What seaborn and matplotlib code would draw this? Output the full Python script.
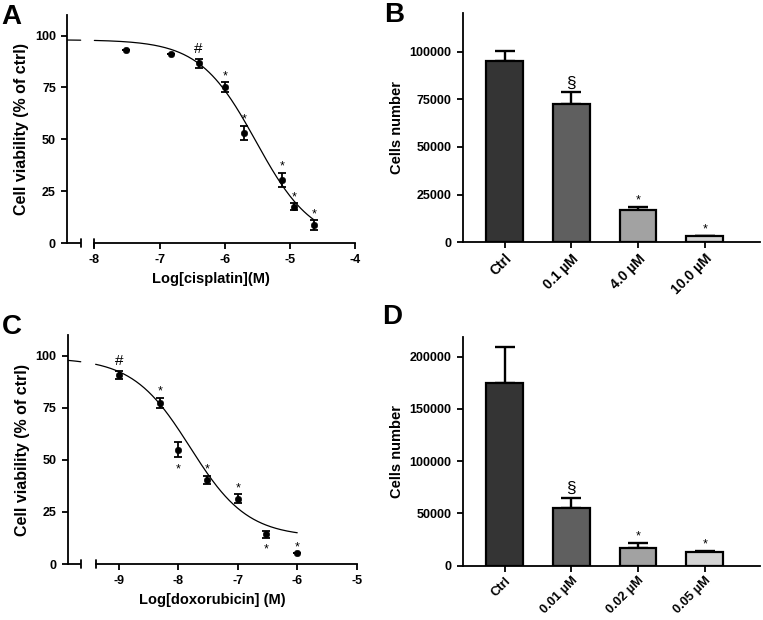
import numpy as np
import pandas as pd
import matplotlib
matplotlib.use("Agg")
import matplotlib.pyplot as plt
import matplotlib.transforms as mtransforms
import seaborn as sns

# ==========================================================
#  Data
# ==========================================================
# Panel A - cisplatin dose response
cis_logc = [-7.52, -6.82, -6.40, -6.00, -5.70, -5.12, -4.93, -4.63]
cis_via = [93.0, 91.1, 86.6, 75.3, 53.2, 30.4, 17.5, 8.6]
cis_err = [0.0, 0.0, 2.3, 2.3, 3.3, 3.5, 1.7, 2.5]
cis_marks = ["", "", "#", "*", "*", "*", "*", "*"]
cis_mark_below = [False] * 8
# 4PL fit: top, bottom, logIC50, hill
cis_fit = (98.0, 0.0, -5.52, 1.0)

# Panel B - cells number, cisplatin
cis_groups = ["Ctrl", "0.1 µM", "4.0 µM", "10.0 µM"]
cis_cells = [95000, 72500, 17000, 3500]
cis_cells_err = [5300, 6300, 1700, 0]
cis_cells_marks = ["", "§", "*", "*"]

# Panel C - doxorubicin dose response
dox_logc = [-9.00, -8.30, -8.00, -7.52, -7.00, -6.52, -6.00]
dox_via = [90.9, 77.4, 54.9, 40.5, 31.4, 14.2, 5.3]
dox_err = [2.0, 2.4, 3.6, 2.0, 2.0, 1.5, 0.0]
dox_marks = ["#", "*", "*", "*", "*", "*", "*"]
dox_mark_below = [False, False, True, False, False, True, False]
dox_fit = (99.0, 13.0, -7.8, 0.9)

# Panel D - cells number, doxorubicin
dox_groups = ["Ctrl", "0.01 µM", "0.02 µM", "0.05 µM"]
dox_cells = [175000, 55000, 17200, 12800]
dox_cells_err = [34500, 10000, 4700, 1500]
dox_cells_marks = ["", "§", "*", "*"]

bar_colors = ["#343434", "#5f5f5f", "#a2a2a2", "#d4d4d4"]

# ==========================================================
#  Style
# ==========================================================
sns.set_theme(style="ticks")
plt.rcParams["font.family"] = ["Liberation Sans", "DejaVu Sans"]
plt.rcParams["font.weight"] = "bold"
plt.rcParams["axes.labelweight"] = "bold"
plt.rcParams["axes.linewidth"] = 1.3
plt.rcParams["xtick.major.width"] = 1.3
plt.rcParams["ytick.major.width"] = 1.3
plt.rcParams["xtick.major.size"] = 4.5
plt.rcParams["ytick.major.size"] = 4.5
plt.rcParams["xtick.labelsize"] = 9
plt.rcParams["ytick.labelsize"] = 9
plt.rcParams["axes.labelsize"] = 10.5
for key in ("xtick.color", "ytick.color", "axes.edgecolor", "axes.labelcolor",
            "text.color", "xtick.labelcolor", "ytick.labelcolor"):
    plt.rcParams[key] = "black"

LW = 1.3


def four_pl(x, params):
    top, bottom, logic50, hill = params
    return bottom + (top - bottom) / (1 + 10 ** (hill * (x - logic50)))


def dose_panel(ax, logc, via, err, marks, below, fit, xlim, xbreak, xstart,
               xticks, xlabel, fit_end):
    ax.set_xlim(*xlim)
    ax.set_ylim(0, 110)

    # fitted curve, drawn in two pieces around the axis break
    left = np.linspace(xlim[0], xbreak, 20)
    main = np.linspace(xstart, fit_end, 200)
    for xs in (left, main):
        seg = pd.DataFrame({"x": xs, "y": four_pl(xs, fit)})
        sns.lineplot(data=seg, x="x", y="y", ax=ax, color="black", lw=0.9)

    df = pd.DataFrame({"x": logc, "y": via, "e": err})
    ax.errorbar(df["x"], df["y"], yerr=df["e"], fmt="none", ecolor="black",
                elinewidth=1.3, capsize=2.8, capthick=1.3, zorder=3)
    sns.scatterplot(data=df, x="x", y="y", ax=ax, color="black", s=22,
                    edgecolor="black", zorder=4)

    for x, y, e, m, b in zip(logc, via, err, marks, below):
        if not m:
            continue
        if m == "#":
            ax.annotate(m, (x, y + e), xytext=(0, 2), textcoords="offset points",
                        ha="center", va="bottom", fontsize=11, fontweight="normal")
        elif b:
            ax.annotate(m, (x, y - e), xytext=(0, -13), textcoords="offset points",
                        ha="center", va="bottom", fontsize=9, fontweight="normal")
        else:
            ax.annotate(m, (x, y + e), xytext=(0, 0), textcoords="offset points",
                        ha="center", va="bottom", fontsize=9, fontweight="normal")

    ax.set_yticks([0, 25, 50, 75, 100])
    ax.set_xticks(xticks)
    ax.set_xticklabels([f"{t:g}" for t in xticks])
    ax.set_xlabel(xlabel, fontsize=10.5)
    ax.set_ylabel("Cell viability (% of ctrl)", fontsize=11.5)
    sns.despine(ax=ax)
    ax.spines["bottom"].set_bounds(xstart, xticks[-1])

    # short left piece of the broken x axis and break markers
    trans = mtransforms.blended_transform_factory(ax.transData, ax.transAxes)
    ax.plot([xlim[0], xbreak], [0, 0], color="black", lw=LW, clip_on=False,
            transform=trans, solid_capstyle="butt")
    for xb in (xbreak, xstart):
        ax.plot([xb, xb], [-0.018, 0.018], color="black", lw=LW, clip_on=False,
                transform=trans)


def bar_panel(ax, groups, vals, errs, marks, ymax, yticks, xlab_size):
    df = pd.DataFrame({"group": groups, "cells": vals})
    sns.barplot(data=df, x="group", y="cells", hue="group", palette=bar_colors,
                width=0.55, edgecolor="black", linewidth=1.6, legend=False,
                ax=ax, zorder=2)
    xs = np.arange(len(groups))
    ax.errorbar(xs, vals, yerr=[np.zeros(len(errs)), errs], fmt="none",
                ecolor="black", elinewidth=1.7, capsize=7, capthick=1.7,
                zorder=1)
    for x, v, e, m in zip(xs, vals, errs, marks):
        if not m:
            continue
        fs = 12.5 if m == "§" else 9
        off = 1 if m == "§" else 0
        ax.annotate(m, (x, v + e), xytext=(0, off), textcoords="offset points",
                    ha="center", va="bottom", fontsize=fs, fontweight="normal")
    ax.set_xlim(-0.63, 3.83)
    ax.set_ylim(0, ymax)
    ax.set_yticks(yticks)
    ax.set_yticklabels([str(t) for t in yticks])
    ax.set_xlabel("")
    ax.set_ylabel("Cells number")
    ax.tick_params(axis="x", length=4, labelsize=xlab_size, pad=2.5)
    plt.setp(ax.get_xticklabels(), rotation=45, ha="right", rotation_mode="anchor")
    sns.despine(ax=ax)


# ==========================================================
#  Figure
# ==========================================================
fig = plt.figure(figsize=(7.63, 6.2), dpi=100)

ax_a = fig.add_axes([0.0878, 0.608, 0.3775, 0.368])
ax_b = fig.add_axes([0.6064, 0.609, 0.3897, 0.3694])
ax_c = fig.add_axes([0.0887, 0.0903, 0.3788, 0.3694])
ax_d = fig.add_axes([0.6064, 0.0876, 0.3897, 0.3694])

dose_panel(ax_a, cis_logc, cis_via, cis_err, cis_marks, cis_mark_below, cis_fit,
           xlim=(-8.42, -4.0), xbreak=-8.21, xstart=-8.0,
           xticks=[-8, -7, -6, -5, -4], xlabel="Log[cisplatin](M)", fit_end=-4.63)
dose_panel(ax_c, dox_logc, dox_via, dox_err, dox_marks, dox_mark_below, dox_fit,
           xlim=(-9.86, -5.0), xbreak=-9.64, xstart=-9.39,
           xticks=[-9, -8, -7, -6, -5], xlabel="Log[doxorubicin] (M)", fit_end=-6.0)

bar_panel(ax_b, cis_groups, cis_cells, cis_cells_err, cis_cells_marks,
          120000, [0, 25000, 50000, 75000, 100000], 10)
bar_panel(ax_d, dox_groups, dox_cells, dox_cells_err, dox_cells_marks,
          219000, [0, 50000, 100000, 150000, 200000], 9.3)

for label, (x, y) in zip("ABCD", [(0.002, 0.973), (0.503, 0.975),
                                   (0.003, 0.473), (0.501, 0.488)]):
    fig.text(x, y, label, fontsize=20, fontweight="bold", ha="left", va="center")

fig.savefig("out.png", dpi=100)
plt.close(fig)
